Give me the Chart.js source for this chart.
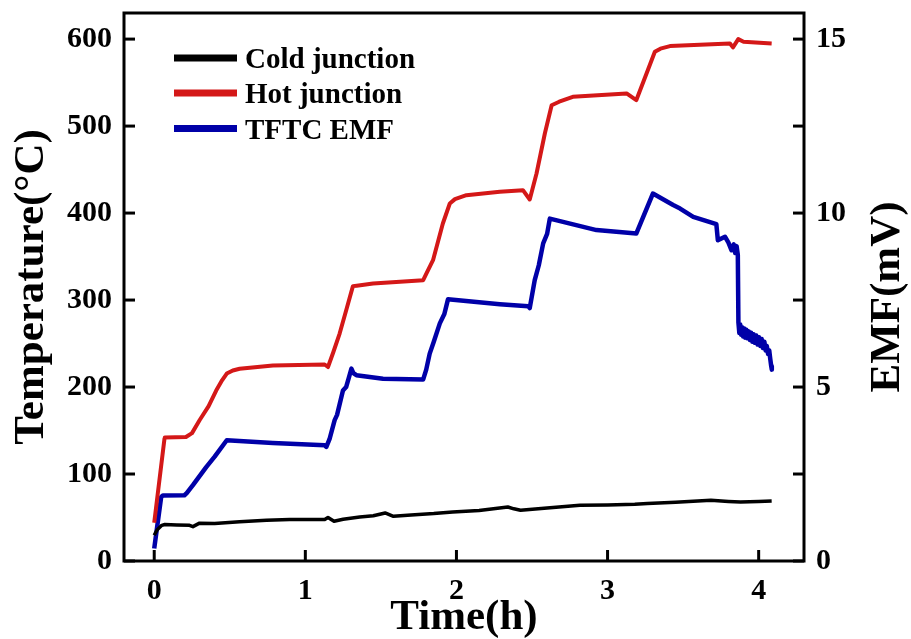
<!DOCTYPE html>
<html>
<head>
  <meta charset="UTF-8">
  <title>TFTC temperature and EMF vs time</title>
  <script src="https://cdn.jsdelivr.net/npm/chart.js"></script>
  <style>
    body { margin: 0; background: #fff; }
    #wrap { width: 911px; height: 639px; }
  </style>
</head>
<body>
  <div id="wrap"><canvas id="tempChart" width="911" height="639"></canvas></div>

  <script>
    // Cold junction temperature (°C) vs time (h)
    const coldTime = [0, 0.02, 0.05, 0.07, 0.15, 0.234, 0.256, 0.30, 0.40, 0.565, 0.743, 0.896, 1.128, 1.15, 1.19, 1.25, 1.36, 1.45, 1.528, 1.583, 1.70, 1.85, 1.975, 2.15, 2.34, 2.38, 2.424, 2.60, 2.817, 3.00, 3.18, 3.264, 3.45, 3.684, 3.80, 3.88, 4.00, 4.086];
    const coldTemp = [29.6, 36, 41, 42, 41.5, 41, 39.5, 43.5, 43, 45, 46.8, 47.6, 47.6, 50, 45.7, 48, 50.6, 52, 55.2, 51.4, 53, 54.5, 56.4, 58, 62.1, 60, 58.3, 61, 64, 64.5, 65.2, 66, 67.5, 69.8, 68.5, 67.9, 68.5, 69];

    // Hot junction temperature (°C) vs time (h)
    const hotTime = [0, 0.068, 0.07, 0.21, 0.25, 0.30, 0.36, 0.41, 0.45, 0.48, 0.52, 0.565, 0.785, 1.128, 1.15, 1.185, 1.227, 1.27, 1.315, 1.34, 1.448, 1.78, 1.80, 1.845, 1.91, 1.956, 1.99, 2.066, 2.287, 2.44, 2.485, 2.53, 2.585, 2.63, 2.68, 2.77, 3.126, 3.19, 3.258, 3.313, 3.35, 3.413, 3.81, 3.83, 3.865, 3.90, 4.086];
    const hotTemp = [44, 140.8, 142, 142.6, 147, 161.8, 178, 196, 208, 215.5, 219, 221, 224.7, 225.9, 223, 240, 261.5, 288, 316, 316.5, 319, 322.8, 330, 345.8, 388, 411, 416, 420.6, 424.4, 426.3, 415.6, 445.5, 491.5, 524, 528, 533.6, 537.5, 529.8, 560.5, 585.4, 589, 592, 595, 590.5, 600, 597, 595];

    // TFTC EMF (mV) vs time (h)
    const emfTime = [0, 0.046, 0.057, 0.2, 0.215, 0.256, 0.344, 0.40, 0.48, 0.785, 1.128, 1.139, 1.16, 1.194, 1.21, 1.249, 1.27, 1.29, 1.305, 1.318, 1.338, 1.514, 1.78, 1.80, 1.823, 1.85, 1.89, 1.92, 1.944, 2.287, 2.475, 2.485, 2.518, 2.545, 2.574, 2.60, 2.618, 2.927, 3.19, 3.30, 3.434, 3.48, 3.567, 3.72, 3.73, 3.777, 3.80, 3.82, 3.835, 3.845, 3.854, 3.862,
      3.866, 3.872, 3.878, 3.884, 3.890, 3.897, 3.904, 3.911, 3.918, 3.926, 3.934, 3.942, 3.950, 3.958, 3.966, 3.975, 3.984, 3.993, 4.002, 4.011, 4.020, 4.029, 4.038, 4.046, 4.054, 4.062, 4.070, 4.077, 4.083, 4.087];
    const emfVal = [0.36, 1.84, 1.88, 1.89, 1.95, 2.18, 2.7, 3.0, 3.47, 3.39, 3.33, 3.28, 3.5, 4.05, 4.2, 4.9, 5.0, 5.3, 5.53, 5.4, 5.34, 5.24, 5.22, 5.5, 5.96, 6.3, 6.83, 7.1, 7.52, 7.38, 7.32, 7.27, 8.07, 8.5, 9.13, 9.4, 9.84, 9.51, 9.41, 10.56, 10.23, 10.13, 9.89, 9.68, 9.22, 9.32, 9.15, 8.93, 9.1, 8.85, 9.05, 8.8,
      6.85, 6.55, 6.80, 6.50, 6.72, 6.45, 6.68, 6.42, 6.65, 6.40, 6.60, 6.35, 6.56, 6.30, 6.52, 6.27, 6.48, 6.22, 6.43, 6.18, 6.38, 6.12, 6.30, 6.05, 6.18, 5.95, 6.05, 5.80, 5.60, 5.50];

    const seriesLabels = ['Cold junction', 'Hot junction', 'TFTC EMF'];
    const seriesColors = ['#000000', '#d41818', '#0000a8'];

    const serif = "'Times New Roman', 'Liberation Serif', serif";

    function toPoints(xs, ys) {
      return xs.map((x, i) => ({ x: x, y: ys[i] }));
    }

    // keep the plot box where the reference has it
    function noEdgePadding(s) {
      s.paddingTop = 0; s.paddingBottom = 0; s.paddingLeft = 0; s.paddingRight = 0;
    }

    // inward tick marks + frame
    const frameTicks = {
      id: 'frameTicks',
      afterDraw(chart) {
        const ctx = chart.ctx;
        const a = chart.chartArea;
        const len = 11;
        ctx.save();
        ctx.strokeStyle = '#000';
        ctx.lineWidth = 3;
        ctx.lineCap = 'butt';
        chart.scales.x.ticks.forEach(t => {
          const px = chart.scales.x.getPixelForValue(t.value);
          ctx.beginPath(); ctx.moveTo(px, a.bottom); ctx.lineTo(px, a.bottom - len); ctx.stroke();
        });
        chart.scales.y.ticks.forEach(t => {
          const py = chart.scales.y.getPixelForValue(t.value);
          ctx.beginPath(); ctx.moveTo(a.left, py); ctx.lineTo(a.left + len, py); ctx.stroke();
        });
        chart.scales.y2.ticks.forEach(t => {
          const py = chart.scales.y2.getPixelForValue(t.value);
          ctx.beginPath(); ctx.moveTo(a.right, py); ctx.lineTo(a.right - len, py); ctx.stroke();
        });
        ctx.strokeRect(a.left, a.top, a.right - a.left, a.bottom - a.top);

        // right axis title, reading bottom to top
        ctx.fillStyle = '#000';
        ctx.font = 'bold 43px ' + serif;
        ctx.textAlign = 'center';
        ctx.textBaseline = 'middle';
        ctx.translate(888, 297);
        ctx.rotate(-Math.PI / 2);
        ctx.fillText('EMF(mV)', 0, 0);
        ctx.restore();

        // legend inside the plot
        ctx.save();
        ctx.font = 'bold 29px ' + serif;
        ctx.textAlign = 'left';
        ctx.textBaseline = 'alphabetic';
        ctx.lineWidth = 7;
        const rows = [58, 93, 128.5];
        chart.data.datasets.forEach((ds, i) => {
          ctx.strokeStyle = ds.borderColor;
          ctx.beginPath(); ctx.moveTo(174, rows[i]); ctx.lineTo(237, rows[i]); ctx.stroke();
          ctx.fillStyle = '#000';
          ctx.fillText(ds.label, 245, rows[i] + 10);
        });
        ctx.restore();
      }
    };

    new Chart(document.getElementById('tempChart'), {
      type: 'line',
      data: {
        datasets: [
          { label: seriesLabels[0], data: toPoints(coldTime, coldTemp), borderColor: seriesColors[0], borderWidth: 3.5, yAxisID: 'y' },
          { label: seriesLabels[1], data: toPoints(hotTime, hotTemp), borderColor: seriesColors[1], borderWidth: 4, yAxisID: 'y' },
          { label: seriesLabels[2], data: toPoints(emfTime, emfVal), borderColor: seriesColors[2], borderWidth: 4.5, yAxisID: 'y2' }
        ]
      },
      options: {
        responsive: false,
        animation: false,
        elements: { point: { radius: 0 }, line: { tension: 0, borderJoinStyle: 'round' } },
        layout: { padding: { top: 13, left: 0, right: 0, bottom: 0 } },
        plugins: { legend: { display: false }, tooltip: { enabled: false } },
        scales: {
          x: {
            type: 'linear',
            min: -0.2, max: 4.3,
            grid: { display: false, drawTicks: false },
            border: { display: false },
            ticks: { stepSize: 1, includeBounds: false, padding: 12, color: '#000', font: { family: serif, size: 30, weight: 'bold' } },
            title: { display: true, text: 'Time(h)', color: '#000', padding: { top: 0, bottom: 0 }, font: { family: serif, size: 43, weight: 'bold', lineHeight: 1 } },
            afterFit(s) { s.height = 78; noEdgePadding(s); }
          },
          y: {
            position: 'left',
            min: 0, max: 630,
            grid: { display: false, drawTicks: false },
            border: { display: false },
            ticks: { stepSize: 100, includeBounds: false, padding: 12, color: '#000', font: { family: serif, size: 30, weight: 'bold' } },
            title: { display: true, text: 'Temperature(°C)', color: '#000', padding: { top: 10, bottom: 0 }, font: { family: serif, size: 43, weight: 'bold', lineHeight: 1 } },
            afterFit(s) { s.width = 124; noEdgePadding(s); }
          },
          y2: {
            position: 'right',
            min: 0, max: 15.75,
            grid: { display: false, drawTicks: false },
            border: { display: false },
            ticks: {
              stepSize: 2.5, includeBounds: false, padding: 12, color: '#000',
              font: { family: serif, size: 30, weight: 'bold' },
              callback: v => (v % 5 === 0 ? v : '')
            },
            afterFit(s) { s.width = 107; noEdgePadding(s); }
          }
        }
      },
      plugins: [frameTicks]
    });
  </script>
</body>
</html>
